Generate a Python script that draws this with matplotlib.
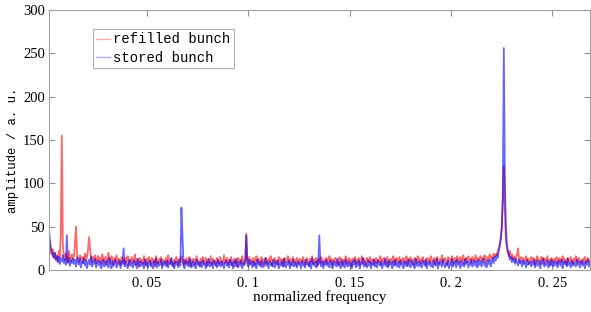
import numpy as np
import matplotlib
matplotlib.use("Agg")
import matplotlib.pyplot as plt
from matplotlib.lines import Line2D

# frequency grid of the spectrum (normalized frequency)
f_start = 0.0015
f_step = 0.0005

refilled = [
    45, 30, 22, 18, 24, 15, 20, 12, 17, 10, 22, 14, 40, 155, 32, 16, 11, 19, 13, 8, 22, 15, 10, 18, 12,
    16, 30, 50, 20, 13, 9, 17, 12, 15, 8, 14, 19, 11, 16, 25, 38, 22, 12, 9, 15, 11, 17, 8, 13, 16,
    10, 14, 7, 18, 12, 9, 15, 6, 13, 20, 11, 8, 16, 12, 5, 14, 10, 17, 8, 13, 11, 6, 15, 9, 12,
    7, 14, 10, 16, 5, 12, 9, 15, 8, 11, 18, 6, 13, 10, 4, 14, 9, 12, 7, 16, 11, 5, 13, 8, 15,
    10, 6, 14, 9, 12, 4, 16, 11, 7, 13, 9, 15, 5, 12, 10, 8, 14, 6, 17, 11, 7, 13, 9, 4, 12,
    8, 15, 10, 6, 13, 9, 16, 11, 5, 12, 8, 14, 7, 10, 15, 4, 12, 9, 13, 6, 11, 16, 8, 10, 5,
    13, 9, 15, 7, 11, 14, 4, 12, 10, 8, 16, 6, 13, 9, 11, 5, 14, 10, 7, 15, 12, 6, 9, 17, 8,
    11, 14, 6, 12, 9, 15, 5, 10, 13, 8, 11, 4, 14, 9, 12, 7, 16, 10, 6, 13, 42, 11, 8, 15, 7,
    12, 9, 14, 5, 11, 16, 8, 13, 10, 6, 15, 9, 12, 4, 14, 11, 7, 13, 10, 16, 5, 12, 9, 14, 8,
    11, 6, 15, 10, 13, 7, 12, 4, 14, 9, 11, 16, 8, 13, 6, 10, 15, 9, 12, 5, 14, 11, 7, 13, 10,
    8, 15, 12, 6, 11, 14, 9, 5, 13, 10, 16, 7, 12, 9, 14, 4, 11, 13, 8, 15, 10, 6, 12, 9, 14,
    7, 11, 16, 9, 13, 5, 12, 10, 14, 8, 11, 6, 15, 9, 13, 4, 12, 10, 16, 7, 11, 14, 8, 12, 5,
    13, 10, 15, 7, 12, 9, 14, 6, 11, 16, 8, 13, 10, 5, 14, 12, 9, 15, 7, 11, 13, 6, 10, 14, 8,
    12, 9, 16, 6, 13, 10, 14, 7, 11, 15, 5, 12, 9, 13, 8, 16, 10, 6, 14, 11, 9, 15, 7, 12, 10,
    14, 8, 11, 16, 6, 13, 10, 15, 9, 12, 5, 14, 11, 8, 16, 10, 13, 7, 12, 15, 9, 11, 6, 14, 10,
    13, 8, 16, 11, 9, 14, 6, 12, 15, 10, 7, 13, 11, 17, 8, 12, 14, 9, 6, 15, 11, 13, 10, 16, 7,
    12, 14, 9, 16, 11, 8, 15, 13, 10, 17, 7, 12, 14, 9, 16, 11, 13, 8, 15, 12, 10, 17, 9, 14, 11,
    13, 16, 10, 14, 12, 17, 9, 15, 13, 11, 18, 14, 16, 12, 19, 15, 18, 17, 22, 25, 30, 38, 50, 85, 120,
    70, 35, 25, 20, 16, 22, 14, 18, 12, 16, 10, 15, 18, 25, 13, 9, 15, 11, 14, 8, 12, 16, 10, 13, 7,
    12, 15, 9, 14, 11, 6, 13, 16, 10, 12, 8, 15, 11, 14, 7, 13, 10, 16, 9, 12, 6, 14, 11, 8, 13,
    10, 15, 7, 12, 14, 9, 11, 16, 8, 13, 10, 6, 14, 12, 9, 15, 11, 7, 13, 10, 16, 8, 12, 14, 9,
    11, 7, 13, 10, 15, 8, 12, 14, 9, 11,
]

stored = [
    55, 38, 28, 22, 18, 14, 20, 12, 16, 9, 15, 7, 13, 10, 17, 8, 12, 6, 40, 9, 14, 5, 11, 8, 13,
    7, 12, 4, 15, 9, 6, 13, 3, 10, 8, 14, 5, 11, 2, 9, 12, 6, 16, 4, 10, 7, 13, 3, 9, 11,
    5, 10, 2, 8, 12, 4, 9, 6, 11, 3, 14, 7, 2, 10, 5, 9, 12, 3, 8, 6, 11, 2, 9, 7, 25,
    4, 10, 6, 2, 9, 12, 5, 8, 3, 11, 6, 9, 2, 13, 7, 4, 10, 5, 8, 2, 12, 6, 9, 3, 7,
    11, 4, 8, 2, 10, 6, 13, 3, 9, 5, 7, 12, 2, 8, 6, 10, 4, 11, 3, 9, 7, 14, 5, 8, 2,
    10, 6, 9, 3, 12, 5, 72, 42, 8, 2, 11, 6, 9, 4, 13, 7, 3, 10, 5, 8, 2, 12, 6, 9, 4,
    9, 3, 11, 6, 8, 2, 10, 5, 13, 4, 7, 9, 2, 11, 6, 8, 3, 12, 5, 9, 4, 10, 7, 2, 8,
    11, 5, 9, 3, 12, 6, 8, 2, 10, 4, 13, 7, 3, 9, 5, 11, 2, 8, 6, 10, 40, 7, 4, 12, 6,
    9, 3, 10, 5, 8, 2, 12, 6, 9, 4, 11, 3, 8, 7, 14, 5, 9, 2, 10, 6, 8, 4, 12, 3, 9,
    6, 11, 2, 8, 5, 10, 4, 13, 7, 3, 9, 6, 11, 2, 8, 5, 12, 4, 9, 7, 3, 10, 6, 8, 2,
    11, 5, 9, 3, 12, 6, 8, 4, 10, 2, 13, 7, 5, 9, 3, 11, 6, 40, 8, 4, 10, 2, 9, 6, 12,
    5, 8, 3, 11, 7, 2, 10, 6, 9, 4, 13, 5, 8, 2, 11, 6, 9, 3, 12, 7, 4, 10, 5, 8, 2,
    10, 6, 12, 3, 9, 5, 11, 2, 8, 7, 14, 4, 9, 6, 3, 11, 5, 10, 2, 8, 6, 12, 4, 9, 3,
    11, 7, 5, 10, 2, 8, 6, 13, 4, 9, 3, 11, 6, 8, 2, 10, 5, 12, 7, 4, 9, 3, 11, 6, 8,
    2, 10, 5, 9, 4, 12, 7, 3, 11, 6, 8, 2, 13, 5, 9, 4, 10, 6, 3, 11, 8, 5, 12, 2, 9,
    6, 10, 4, 8, 3, 11, 7, 5, 13, 2, 9, 6, 10, 4, 12, 7, 3, 8, 5, 11, 2, 9, 6, 13, 4,
    8, 10, 3, 12, 6, 9, 2, 11, 5, 8, 4, 13, 7, 10, 3, 9, 6, 12, 4, 8, 11, 5, 9, 3, 12,
    6, 10, 4, 9, 13, 5, 8, 3, 11, 7, 12, 4, 9, 14, 8, 15, 11, 18, 14, 22, 28, 35, 48, 80, 256,
    110, 50, 30, 22, 18, 12, 15, 9, 14, 11, 7, 13, 9, 5, 12, 8, 10, 4, 11, 7, 9, 3, 12, 6, 8,
    10, 4, 9, 6, 12, 3, 8, 11, 5, 9, 2, 10, 7, 13, 4, 8, 6, 11, 3, 9, 5, 12, 7, 4, 10,
    6, 9, 3, 11, 8, 5, 12, 2, 9, 7, 10, 4, 13, 6, 8, 3, 11, 5, 9, 7, 4, 12, 6, 10, 3,
    8, 11, 5, 9, 2, 10, 6, 12, 4, 8,
]

xticks = [0.05, 0.1, 0.15, 0.2, 0.25]
xticklabels = ["0. 05", "0. 1", "0. 15", "0. 2", "0. 25"]
yticks = [0, 50, 100, 150, 200, 250, 300]
series_labels = ["refilled bunch", "stored bunch"]

freq = f_start + f_step * np.arange(len(refilled))

W, H = 591, 312
fig = plt.figure(figsize=(W / 100, H / 100), dpi=100)
ax = fig.add_axes([49 / W, 42 / H, (590 - 49) / W, 260 / H])

ax.plot(freq, refilled, color=(1, 0, 0), alpha=0.6, lw=1.3)
ax.plot(freq, stored, color=(0, 0, 1), alpha=0.6, lw=1.3)

ax.set_xlim(0.0017, 0.2685)
ax.set_ylim(0, 300)
ax.set_xticks(xticks)
ax.set_xticklabels(xticklabels)
ax.set_yticks(yticks)

for lab in ax.get_xticklabels() + ax.get_yticklabels():
    lab.set_fontfamily("Liberation Serif")
    lab.set_fontsize(10.5)

ax.tick_params(direction="in", top=True, right=True, length=4, width=0.8,
               color="#909090", labelcolor="black")
ax.tick_params(axis="x", pad=5)
ax.tick_params(axis="y", pad=3)
for s in ax.spines.values():
    s.set_color("#a0a0a0")
    s.set_linewidth(0.8)

ax.set_xlabel("normalized frequency", family="Liberation Serif", fontsize=11, labelpad=0.5)
ax.set_ylabel("amplitude / a. u.", family="Liberation Mono", fontsize=8.8)
ax.yaxis.set_label_coords(-0.056, 0.46)

handles = [Line2D([], [], color="#ffaaaa", lw=1.0), Line2D([], [], color="#aaaaff", lw=1.0)]
leg = fig.legend(handles, series_labels, loc="upper left",
                 bbox_to_anchor=(93 / W, 1 - 29 / H), borderaxespad=0,
                 prop=dict(family="Liberation Mono", size=10),
                 handlelength=1.0, handletextpad=0.2, borderpad=0.25,
                 labelspacing=0.3, fancybox=False, framealpha=1,
                 edgecolor="#b0b0b0")
leg.get_frame().set_linewidth(0.8)

fig.savefig("out.png", dpi=100)
